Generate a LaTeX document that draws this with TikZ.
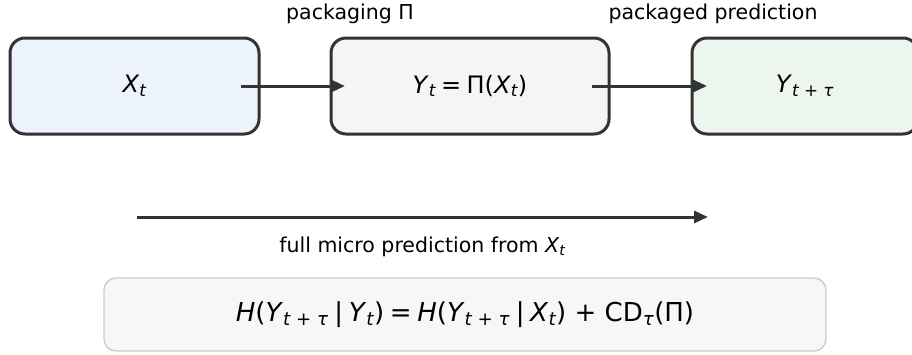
\documentclass[tikz,border=0pt]{standalone}
\usepackage{fontspec}
\setmainfont{DejaVu Sans}
\usepackage{tikz}
\usetikzlibrary{positioning,arrows.meta,calc}
\definecolor{CGink}{HTML}{333333}
\definecolor{CGblue}{HTML}{EDF3FD}
\definecolor{CGgrey}{HTML}{F5F5F5}
\definecolor{CGgreen}{HTML}{EDF6EE}
\definecolor{CGpanel}{HTML}{F7F7F7}
\definecolor{CGline}{HTML}{CCCCCC}
% italic letters and subscripts in the text font
\newcommand{\iv}[1]{\textit{#1}}
\newcommand{\sbs}[1]{\textsubscript{\itshape #1}}
\newcommand{\gap}{\hspace{0.22em}}
\tikzset{
  statebox/.style={rounded corners=15pt, draw=CGink, line width=3pt, align=center,
    outer sep=0pt, minimum height=96pt, text=black, font=\fontsize{24}{28}\selectfont},
  flowarr/.style={-{Triangle[length=14pt,width=12pt]}, line width=3pt, draw=CGink},
  tag/.style={font=\fontsize{20.5}{24}\selectfont, text=black, inner sep=0pt},
  eqbox/.style={rounded corners=12pt, draw=CGline, fill=CGpanel, line width=1.4pt,
    minimum width=722pt, minimum height=73pt, font=\fontsize{26}{30}\selectfont}
}
\begin{document}
\begin{tikzpicture}[x=1pt,y=-1pt]
  \useasboundingbox (0,0) rectangle (912,354);
  % the three states
  \node[statebox, fill=CGblue, minimum width=249pt] (X) at (134.5,86) {\iv{X}\sbs{t}};
  \node[statebox, fill=CGgrey, minimum width=278pt, right=72pt of X] (Y)
       {\iv{Y}\sbs{t}\gap=\gap Π(\iv{X}\sbs{t})};
  \node[statebox, fill=CGgreen, minimum width=226pt, right=83pt of Y] (Z)
       {\iv{Y}\sbs{t + τ}};
  \node[tag] (lp) at ($(Y.north west)+(19,-24)$) {packaging Π};
  \node[tag] (lq) at ($(Z.north west)+(21,-24)$) {packaged prediction};
  \draw[flowarr] ([xshift=-18pt]X.east) -- ([xshift=14pt]Y.west);
  \draw[flowarr] ([xshift=-17pt]Y.east) -- ([xshift=15pt]Z.west);
  % direct route
  \coordinate (fs) at (137,217);
  \coordinate (fe) at (708,217);
  \draw[flowarr] (fs) -- node[tag, midway, below=18pt] (lf) {full micro prediction from \iv{X}\sbs{t}} (fe);
  % entropy identity
  \node[eqbox] (E) at (465,314.5)
       {\iv{H}(\iv{Y}\sbs{t + τ}\gap|\gap\iv{Y}\sbs{t})\gap=\gap\iv{H}(\iv{Y}\sbs{t + τ}\gap|\gap\iv{X}\sbs{t}) + CD\textsubscript{\itshape τ}(Π)};
\end{tikzpicture}
\end{document}
